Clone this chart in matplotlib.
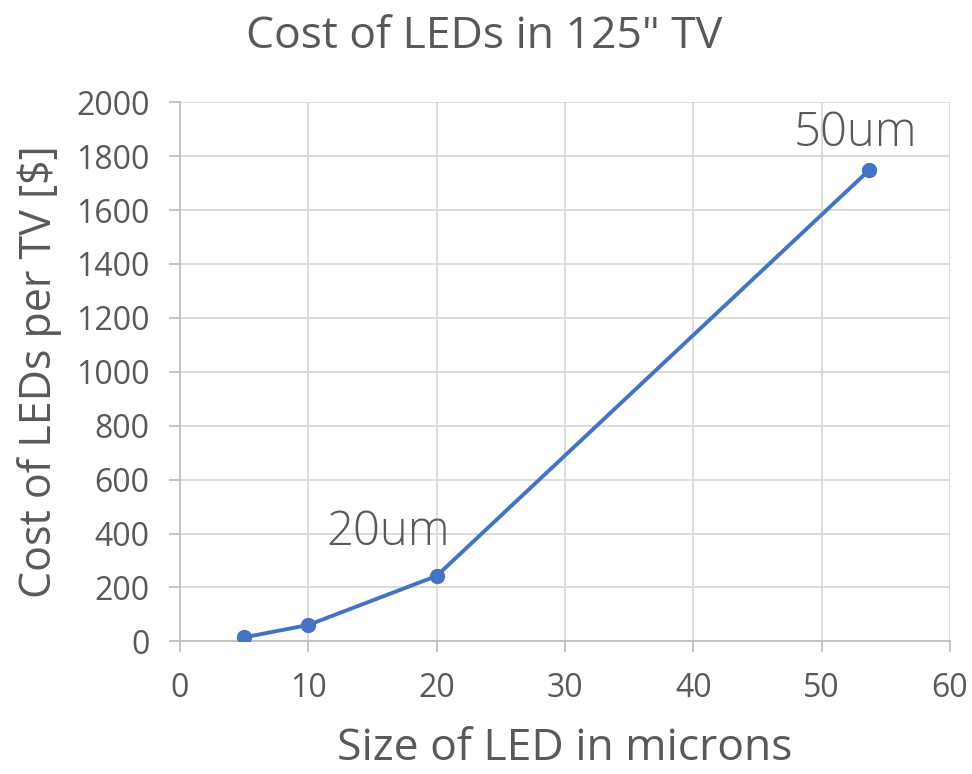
import matplotlib
matplotlib.use("Agg")
import matplotlib.pyplot as plt

sizes = [5, 10, 20, 53.7]
costs = [15, 61, 243, 1748]
labels = {"20um": (20, 243), "50um": (53.7, 1748)}
xticks = [0, 10, 20, 30, 40, 50, 60]
yticks = list(range(0, 2001, 200))

plt.rcParams['font.family'] = ['Open Sans', 'DejaVu Sans']
gray = '#595959'
fig = plt.figure(figsize=(9.72, 7.74), dpi=100)
ax = fig.add_axes([0.1852, 0.1713, 0.7922, 0.6967])
ax.plot(sizes, costs, color='#4472C4', lw=2.8, marker='o', ms=10, zorder=3)
ax.set_xlim(0, 60)
ax.set_ylim(0, 2000)
ax.set_xticks(xticks)
ax.set_yticks(yticks)
ax.grid(True, color='#D9D9D9', lw=1.3)
for s in ['top', 'right']:
    ax.spines[s].set_visible(False)
for s in ['left', 'bottom']:
    ax.spines[s].set_color('#BFBFBF')
    ax.spines[s].set_linewidth(1.3)
ax.tick_params(axis='both', colors='#BFBFBF', labelcolor=gray, labelsize=23, length=8, width=1.3)
ax.tick_params(axis='x', pad=14)
ax.tick_params(axis='y', pad=14)
ax.set_xlabel('Size of LED in microns', fontsize=32, color=gray)
ax.set_ylabel('Cost of LEDs per TV [$]', fontsize=31, color=gray)
ax.xaxis.set_label_coords(0.5, -0.158)
ax.yaxis.set_label_coords(-0.153, 0.5)
fig.text(0.498, 0.953, 'Cost of LEDs in 125" TV', fontsize=32, color=gray, ha='center', va='center')
ax.annotate('20um', xy=labels["20um"], xytext=(-35, 31), textcoords='offset points',
            fontsize=34, color=gray, ha='center', va='center', fontweight='light')
ax.annotate('50um', xy=labels["50um"], xytext=(-10, 26), textcoords='offset points',
            fontsize=34, color=gray, ha='center', va='center', fontweight='light')
fig.savefig('out.png', dpi=100)
